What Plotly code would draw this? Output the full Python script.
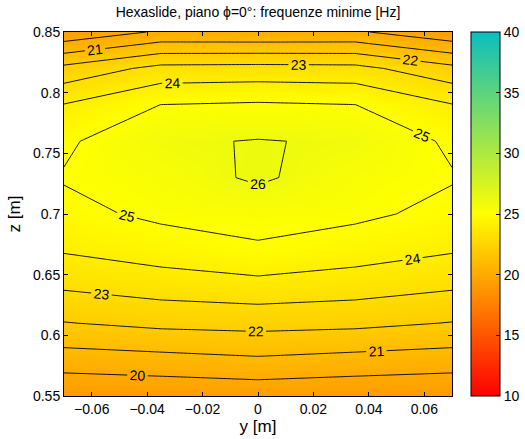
import plotly.graph_objects as go

# Measurement grid (horizontal position y and height z, metres)
y_pos = [-0.07, -0.035, 0.0, 0.035, 0.07]
z_pos = [0.55, 0.58, 0.61, 0.64, 0.67, 0.70, 0.73, 0.76, 0.79, 0.82, 0.85]

# Minimum natural frequency [Hz] at each grid node, one row per height
f_min = [
    [19.08, 19.19, 19.30, 19.19, 19.08],
    [20.53, 20.68, 20.87, 20.68, 20.53],
    [21.96, 22.24, 22.33, 22.24, 21.96],
    [23.11, 23.43, 23.62, 23.43, 23.11],
    [24.08, 24.48, 24.90, 24.48, 24.08],
    [24.73, 25.20, 25.26, 25.20, 24.73],
    [25.07, 25.39, 26.18, 25.34, 25.07],
    [24.83, 25.85, 26.05, 25.88, 24.82],
    [24.04, 25.01, 25.12, 25.01, 24.04],
    [22.28, 23.30, 23.35, 23.30, 22.28],
    [19.20, 20.14, 20.10, 20.14, 19.22],
]

x_ticks = [-0.06, -0.04, -0.02, 0, 0.02, 0.04, 0.06]
x_tick_text = ["\u22120.06", "\u22120.04", "\u22120.02", "0", "0.02", "0.04", "0.06"]
z_ticks = [0.55, 0.6, 0.65, 0.7, 0.75, 0.8, 0.85]
z_tick_text = ["0.55", "0.6", "0.65", "0.7", "0.75", "0.8", "0.85"]
cbar_ticks = [10, 15, 20, 25, 30, 35, 40]

colorscale = [
    [0.0, "rgb(255,0,0)"],
    [0.5, "rgb(255,255,0)"],
    [1.0, "rgb(10,190,190)"],
]

FONT = "Liberation Sans, Arial, Helvetica, sans-serif"
FS = 14

fig = go.Figure()

# Interpolated colour field with labelled iso-frequency lines on top
fig.add_trace(go.Contour(
    x=y_pos, y=z_pos, z=f_min,
    colorscale=colorscale, zmin=10, zmax=40, showscale=False,
    contours=dict(start=20, end=26, size=1, coloring="heatmap",
                  showlabels=True,
                  labelfont=dict(family=FONT, size=FS, color="black")),
    line=dict(color="black", width=0.9, smoothing=0),
    hoverinfo="skip",
))

# Same field, transparent, only to carry a plain colour bar
fig.add_trace(go.Heatmap(
    x=y_pos, y=z_pos, z=f_min, opacity=0,
    colorscale=colorscale, zmin=10, zmax=40,
    colorbar=dict(
        x=(471 - 64) / 388, xanchor="left", xpad=0,
        y=0, yanchor="bottom", len=1, ypad=0,
        thickness=29, outlinecolor="black", outlinewidth=1,
        tickvals=cbar_ticks, ticks="inside", ticklen=4,
        tickcolor="black", tickfont=dict(family=FONT, size=FS, color="black"),
    ),
    hoverinfo="skip",
))

axis_common = dict(
    showline=True, linecolor="black", linewidth=1, mirror="ticks",
    ticks="inside", ticklen=4, tickcolor="black",
    showgrid=False, zeroline=False,
    tickfont=dict(family=FONT, size=FS, color="black"),
)

fig.update_layout(
    width=525, height=439,
    margin=dict(l=64, r=73, t=32, b=43, autoexpand=False),
    paper_bgcolor="white", plot_bgcolor="white",
    font=dict(family=FONT, size=FS, color="black"),
    title=dict(text="Hexaslide, piano \u03d5=0\u00b0: frequenze minime [Hz]",
               x=0.5 * (64 + 452) / 525, xanchor="center",
               y=1 - 12 / 439, yanchor="middle",
               font=dict(family=FONT, size=FS, color="black")),
    xaxis=dict(range=[-0.07, 0.07], tickvals=x_ticks, ticktext=x_tick_text,
               title=dict(text="y [m]", standoff=2), **axis_common),
    yaxis=dict(range=[0.55, 0.85], tickvals=z_ticks, ticktext=z_tick_text,
               title=dict(text="z [m]", standoff=8), **axis_common),
)

fig.write_html("out.html")
